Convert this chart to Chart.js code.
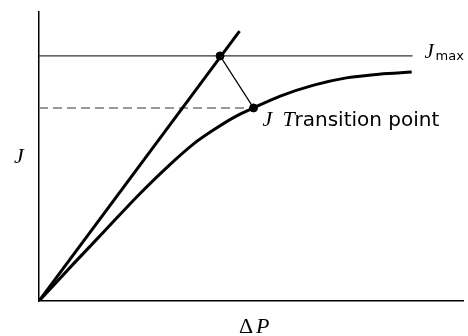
<!DOCTYPE html>
<html>
<head>
<meta charset="utf-8">
<script src="https://cdn.jsdelivr.net/npm/chart.js@4/dist/chart.umd.min.js"></script>
<style>
  html, body { margin: 0; padding: 0; background: #fff; }
  #wrap { width: 468px; height: 336px; }
</style>
</head>
<body>
<div id="wrap"><canvas id="myChart" width="468" height="336"></canvas></div>
<script>
// curva J(ΔP), valores
const curveX = [0, 0.79, 1.59, 2.35, 3.05, 3.64, 4.15, 4.62, 5.06, 5.69, 6.48, 7.25, 8.02, 8.79];
const curveY = [0, 1.25, 2.49, 3.67, 4.67, 5.43, 5.95, 6.37, 6.68, 7.09, 7.47, 7.72, 7.85, 7.92];

// recta inicial
const lineX = [0, 4.73];
const lineY = [0, 9.34];

// J max y punto de transición
const jMax = 8.48;
const jMaxEndX = 8.81;
const upperX = 4.27;
const transX = 5.06;
const transY = 6.68;

const toPts = (xs, ys) => xs.map((x, i) => ({ x: x, y: ys[i] }));

// textos del gráfico
const labelsPlugin = {
  id: "labels",
  afterDraw(chart) {
    const ctx = chart.ctx;
    const xs = chart.scales.x;
    const ys = chart.scales.y;
    ctx.save();
    ctx.fillStyle = "#000";
    ctx.textBaseline = "alphabetic";

    // eje Y
    ctx.font = "italic 22px 'Liberation Serif'";
    ctx.textAlign = "center";
    ctx.fillText("J", 19, 163);

    // eje X
    ctx.textAlign = "left";
    ctx.font = "22px 'Liberation Serif'";
    ctx.fillText("\u0394", 239, 333);
    ctx.font = "italic 22px 'Liberation Serif'";
    ctx.fillText("P", 256, 333);

    // J max
    const yMax = ys.getPixelForValue(jMax);
    const xMax = xs.getPixelForValue(jMaxEndX);
    ctx.font = "italic 21px 'Liberation Serif'";
    ctx.fillText("J", xMax + 12, yMax + 2);
    ctx.font = "13px 'DejaVu Sans'";
    ctx.fillText("max", xMax + 23, yMax + 4);

    // punto de transición
    const tx = xs.getPixelForValue(transX);
    const ty = ys.getPixelForValue(transY);
    ctx.font = "italic 22px 'Liberation Serif'";
    ctx.fillText("J", tx + 9, ty + 18);
    ctx.fillText("T", tx + 29, ty + 18);
    ctx.font = "20px 'DejaVu Sans'";
    ctx.fillText("ransition point", tx + 41, ty + 18);
    ctx.restore();
  },
};

const ctx = document.getElementById("myChart").getContext("2d");

new Chart(ctx, {
  type: "scatter",
  data: {
    datasets: [
      {
        // puntos
        data: [{ x: upperX, y: jMax }, { x: transX, y: transY }],
        pointRadius: 4,
        pointBackgroundColor: "#000",
        pointBorderColor: "#000",
        showLine: false,
      },
      {
        data: toPts(curveX, curveY),
        showLine: true,
        borderColor: "#000",
        borderWidth: 3,
        pointRadius: 0,
        cubicInterpolationMode: "monotone",
      },
      {
        data: toPts(lineX, lineY),
        showLine: true,
        borderColor: "#000",
        borderWidth: 3,
        pointRadius: 0,
      },
      {
        data: [{ x: 0, y: jMax }, { x: jMaxEndX, y: jMax }],
        showLine: true,
        borderColor: "#333",
        borderWidth: 1.3,
        pointRadius: 0,
      },
      {
        data: [{ x: 0, y: transY }, { x: transX, y: transY }],
        showLine: true,
        borderColor: "#777",
        borderWidth: 1.6,
        borderDash: [9, 5],
        pointRadius: 0,
      },
      {
        data: [{ x: upperX, y: jMax }, { x: transX, y: transY }],
        showLine: true,
        borderColor: "#000",
        borderWidth: 1.2,
        pointRadius: 0,
      },
    ],
  },
  options: {
    responsive: false,
    animation: false,
    layout: { padding: { left: 39, top: 12, right: 0, bottom: 35 } },
    plugins: { legend: { display: false }, tooltip: { enabled: false } },
    scales: {
      x: {
        type: "linear",
        min: 0,
        max: 10,
        grid: { display: false, drawTicks: false },
        ticks: { display: false },
        border: { color: "#000", width: 1.5 },
      },
      y: {
        type: "linear",
        min: 0,
        max: 10,
        grid: { display: false, drawTicks: false },
        ticks: { display: false },
        border: { color: "#000", width: 1.5 },
      },
    },
  },
  plugins: [labelsPlugin],
});
</script>
</body>
</html>
